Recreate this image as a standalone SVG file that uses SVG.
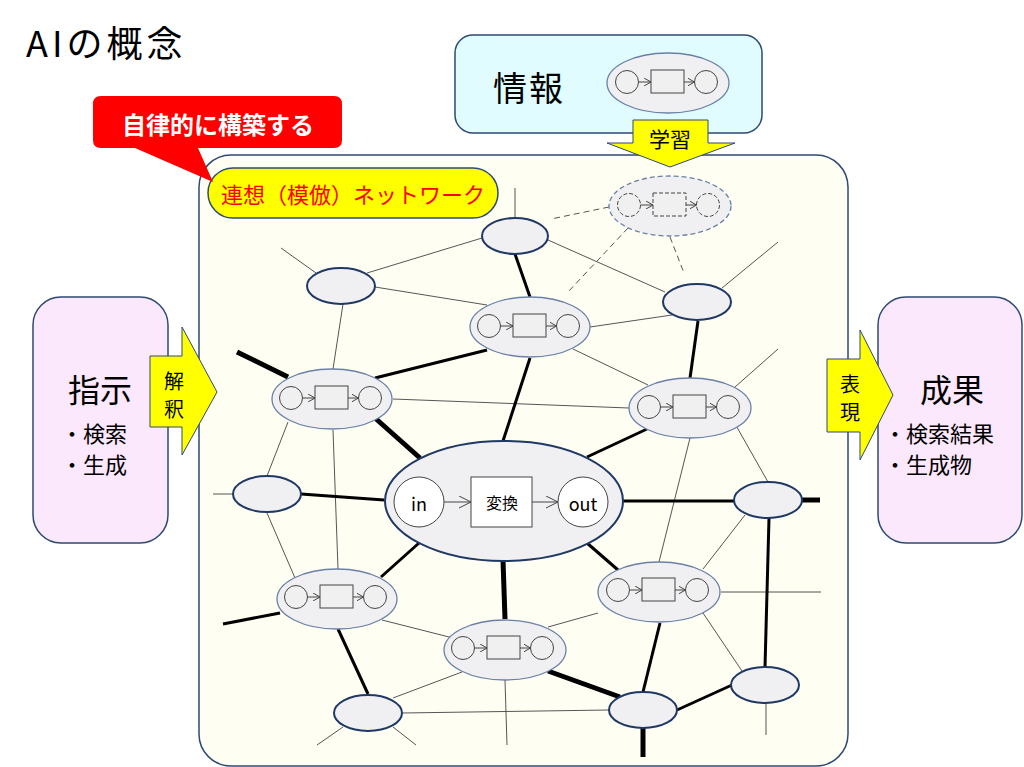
<svg xmlns="http://www.w3.org/2000/svg" xmlns:xlink="http://www.w3.org/1999/xlink" width="1024" height="767" viewBox="0 0 1024 767">
<defs>
<style>
.jp{font-family:"Noto Sans CJK JP","Noto Sans",sans-serif;}
.box{stroke:#2E4A72;stroke-width:1.5;}
.thin{stroke:#555;stroke-width:1;fill:none;}
.thick{stroke:#000;stroke-width:3;fill:none;}
.heavy{stroke:#000;stroke-width:5;fill:none;}
.dash{stroke:#555;stroke-width:1;fill:none;stroke-dasharray:6 4;}
.pn{fill:#F0F0F3;stroke:#1F3864;stroke-width:2;}
.cn{fill:#F0F0F2;stroke:#6A80A6;stroke-width:1.3;}
.cnd{fill:#F0F0F2;stroke:#6A80A6;stroke-width:1.3;stroke-dasharray:5 3;}
.mc{fill:#F0F0F0;stroke:#444;stroke-width:1;}
.mcd{fill:#F0F0F0;stroke:#444;stroke-width:1;stroke-dasharray:4 2;}
.ma{stroke:#444;stroke-width:1;fill:none;marker-end:url(#oa);}
.arr{fill:#FFFF00;stroke:#2E4A72;stroke-width:1;}
</style>
<marker id="oa" markerWidth="8" markerHeight="8" refX="7" refY="4" orient="auto" markerUnits="userSpaceOnUse">
<path d="M0,0 L7,4 L0,8" fill="none" stroke="#444" stroke-width="1"/>
</marker>
<marker id="ob" markerWidth="14" markerHeight="14" refX="12" refY="6" orient="auto" markerUnits="userSpaceOnUse">
<path d="M0,0 L12,6 L0,12" fill="none" stroke="#444" stroke-width="1"/>
</marker>
<g id="mini">
<circle class="mc" cx="-41" cy="0" r="11.5"/>
<rect class="mc" x="-17" y="-12" width="33" height="23"/>
<circle class="mc" cx="38" cy="0" r="11.5"/>
<line class="ma" x1="-29.5" y1="0" x2="-17" y2="0"/>
<line class="ma" x1="16" y1="0" x2="26.5" y2="0"/>
</g>
<g id="minid">
<circle class="mcd" cx="-41" cy="0" r="11.5"/>
<rect class="mcd" x="-17" y="-12" width="33" height="23"/>
<circle class="mcd" cx="38" cy="0" r="11.5"/>
<line class="ma" x1="-29.5" y1="0" x2="-17" y2="0"/>
<line class="ma" x1="16" y1="0" x2="26.5" y2="0"/>
</g>
</defs>
<rect width="1024" height="767" fill="#FFFFFF"/>

<text class="jp" x="26" y="41" font-size="36" dominant-baseline="central" letter-spacing="4" fill="#000">AIの概念</text>

<g id="info">
<rect class="box" x="455" y="35" width="307" height="98" rx="18" fill="#E0FCFF"/>
<text class="jp" x="529" y="86" font-size="34" text-anchor="middle" dominant-baseline="central" letter-spacing="2" fill="#000">情報</text>
<ellipse class="cn" cx="668" cy="83" rx="61" ry="30"/>
<use xlink:href="#mini" transform="translate(668,82)"/>
</g>

<g id="network-container">
<rect class="box" x="199" y="155" width="649" height="611" rx="32" fill="#FFFEF3"/>
</g>

<g id="connectors">
<line class="thin" x1="515" y1="188" x2="515" y2="218"/>
<line class="thin" x1="482" y1="238" x2="367" y2="273"/>
<line class="thin" x1="548" y1="240" x2="665" y2="292"/>
<line class="thin" x1="281" y1="248" x2="316" y2="273"/>
<line class="thin" x1="375" y1="287" x2="487" y2="305"/>
<line class="thin" x1="343" y1="304" x2="333" y2="369"/>
<line class="thin" x1="393" y1="399" x2="629" y2="408"/>
<line class="thin" x1="573" y1="349" x2="648" y2="385"/>
<line class="thin" x1="590" y1="327" x2="672" y2="315"/>
<line class="thin" x1="722" y1="288" x2="778" y2="242"/>
<line class="thin" x1="735" y1="387" x2="778" y2="349"/>
<line class="thin" x1="690" y1="438" x2="659" y2="562"/>
<line class="thin" x1="734" y1="422" x2="768" y2="482"/>
<line class="thin" x1="288" y1="422" x2="267" y2="476"/>
<line class="thin" x1="333" y1="430" x2="338" y2="569"/>
<line class="thin" x1="745" y1="515" x2="703" y2="569"/>
<line class="thin" x1="721" y1="592" x2="821" y2="592"/>
<line class="thin" x1="598" y1="613" x2="548" y2="627"/>
<line class="thin" x1="703" y1="613" x2="742" y2="671"/>
<line class="thin" x1="766" y1="703" x2="766" y2="735"/>
<line class="thin" x1="402" y1="713" x2="609" y2="710"/>
<line class="thin" x1="505" y1="680" x2="507" y2="745"/>
<line class="thin" x1="462" y1="672" x2="393" y2="698"/>
<line class="thin" x1="382" y1="620" x2="457" y2="639"/>
<line class="thin" x1="267" y1="513" x2="295" y2="578"/>
<line class="thin" x1="213" y1="494" x2="233" y2="494"/>
<line class="thin" x1="343" y1="727" x2="317" y2="745"/>
<line class="thin" x1="393" y1="727" x2="416" y2="745"/>

<line class="thick" x1="515" y1="254" x2="530" y2="297"/>
<line class="thick" x1="375" y1="378" x2="487" y2="350"/>
<line class="thick" x1="530" y1="358" x2="503" y2="441"/>
<line class="thick" x1="698" y1="321" x2="690" y2="378"/>
<line class="thick" x1="647" y1="429" x2="587" y2="457"/>
<line class="thick" x1="623" y1="501" x2="735" y2="501"/>
<line class="thick" x1="769" y1="518" x2="765" y2="667"/>
<line class="thick" x1="587" y1="543" x2="618" y2="570"/>
<line class="thick" x1="660" y1="623" x2="643" y2="692"/>
<line class="thick" x1="732" y1="685" x2="677" y2="710"/>
<line class="thick" x1="338" y1="629" x2="368" y2="694"/>
<line class="thick" x1="223" y1="624" x2="280" y2="613"/>
<line class="thick" x1="381" y1="577" x2="419" y2="543"/>
<line class="thick" x1="301" y1="494" x2="384" y2="500"/>

<line class="heavy" x1="237" y1="352" x2="288" y2="377" stroke-width="4.5"/>
<line class="heavy" x1="375" y1="418" x2="420" y2="458"/>
<line class="heavy" x1="802" y1="500" x2="820" y2="500" stroke-width="6"/>
<line class="heavy" x1="503" y1="560" x2="505" y2="619"/>
<line class="heavy" x1="548" y1="671" x2="620" y2="697"/>
<line class="heavy" x1="643" y1="728" x2="643" y2="757" stroke-width="4"/>

<line class="dash" x1="609" y1="207" x2="551" y2="219"/>
<line class="dash" x1="628" y1="228" x2="568" y2="292"/>
<line class="dash" x1="670" y1="237" x2="684" y2="273"/>
</g>

<g id="n1"><ellipse class="pn" cx="515" cy="236" rx="33" ry="18"/></g>
<g id="n2"><ellipse class="pn" cx="341" cy="286" rx="34" ry="18"/></g>
<g id="n3"><ellipse class="pn" cx="697" cy="302" rx="34" ry="18"/></g>
<g id="n4"><ellipse class="pn" cx="267" cy="494" rx="34" ry="18"/></g>
<g id="n5"><ellipse class="pn" cx="768" cy="500" rx="34" ry="18"/></g>
<g id="n6"><ellipse class="pn" cx="368" cy="713" rx="34" ry="18"/></g>
<g id="n7"><ellipse class="pn" cx="643" cy="710" rx="34" ry="18"/></g>
<g id="n8"><ellipse class="pn" cx="765" cy="685" rx="34" ry="18"/></g>

<g id="c1"><ellipse class="cn" cx="530" cy="327" rx="60" ry="30"/><use xlink:href="#mini" transform="translate(530,326)"/></g>
<g id="c2"><ellipse class="cn" cx="332" cy="399" rx="60" ry="30"/><use xlink:href="#mini" transform="translate(332,398)"/></g>
<g id="c3"><ellipse class="cn" cx="690" cy="408" rx="61" ry="30"/><use xlink:href="#mini" transform="translate(690,407)"/></g>
<g id="c4"><ellipse class="cn" cx="337" cy="599" rx="60" ry="30"/><use xlink:href="#mini" transform="translate(337,597)"/></g>
<g id="c5"><ellipse class="cn" cx="505" cy="650" rx="61" ry="30"/><use xlink:href="#mini" transform="translate(504,648)"/></g>
<g id="c6"><ellipse class="cn" cx="659" cy="592" rx="61" ry="30"/><use xlink:href="#mini" transform="translate(659,590)"/></g>
<g id="c7"><ellipse class="cnd" cx="670" cy="206" rx="61" ry="30"/><use xlink:href="#minid" transform="translate(670,205)"/></g>

<g id="center">
<ellipse class="pn" cx="504" cy="501" rx="119" ry="60" stroke-width="2"/>
<circle cx="419" cy="502" r="25" fill="#FFFFFF" stroke="#444" stroke-width="1"/>
<rect x="471" y="477" width="61" height="50" fill="#FFFFFF" stroke="#444" stroke-width="1"/>
<circle cx="583" cy="502" r="25" fill="#FFFFFF" stroke="#444" stroke-width="1"/>
<line x1="444" y1="502" x2="471" y2="502" stroke="#444" stroke-width="1" marker-end="url(#ob)"/>
<line x1="532" y1="502" x2="558" y2="502" stroke="#444" stroke-width="1" marker-end="url(#ob)"/>
<text class="jp" x="419" y="503" font-size="18" text-anchor="middle" dominant-baseline="central" fill="#000">in</text>
<text class="jp" x="502" y="502" font-size="16" text-anchor="middle" dominant-baseline="central" fill="#000">変換</text>
<text class="jp" x="583" y="503" font-size="18" text-anchor="middle" dominant-baseline="central" fill="#000">out</text>
</g>

<g id="instruction">
<rect class="box" x="33" y="297" width="135" height="246" rx="28" fill="#FCE8FC"/>
<text class="jp" x="100" y="388" font-size="32" text-anchor="middle" dominant-baseline="central" fill="#000">指示</text>
<text class="jp" x="61" y="432" font-size="22" dominant-baseline="central" fill="#000">・検索</text>
<text class="jp" x="61" y="463" font-size="22" dominant-baseline="central" fill="#000">・生成</text>
</g>

<g id="result">
<rect class="box" x="878" y="297" width="144" height="246" rx="28" fill="#FCE8FC"/>
<text class="jp" x="952" y="388" font-size="32" text-anchor="middle" dominant-baseline="central" fill="#000">成果</text>
<text class="jp" x="884" y="432" font-size="22" dominant-baseline="central" fill="#000">・検索結果</text>
<text class="jp" x="884" y="463" font-size="22" dominant-baseline="central" fill="#000">・生成物</text>
</g>

<g id="arrow-interpret">
<polygon class="arr" points="150,356 182,356 182,327 217,392 182,455 182,427 150,427"/>
<text class="jp" x="174" y="380" font-size="20" text-anchor="middle" dominant-baseline="central" fill="#000">解</text>
<text class="jp" x="174" y="408" font-size="20" text-anchor="middle" dominant-baseline="central" fill="#000">釈</text>
</g>

<g id="arrow-express">
<polygon class="arr" points="827,359 860,359 860,330 893,395 860,460 860,432 827,432"/>
<text class="jp" x="850" y="383" font-size="20" text-anchor="middle" dominant-baseline="central" fill="#000">表</text>
<text class="jp" x="850" y="411" font-size="20" text-anchor="middle" dominant-baseline="central" fill="#000">現</text>
</g>

<g id="arrow-learn">
<polygon class="arr" points="633,120 708,120 708,143 735,143 670,167 607,143 633,143"/>
<text class="jp" x="670" y="138" font-size="21" text-anchor="middle" dominant-baseline="central" fill="#000">学習</text>
</g>

<g id="network-label">
<rect x="208" y="168" width="290" height="50" rx="25" fill="#FFFF00" stroke="#2E4A72" stroke-width="1.5"/>
<text class="jp" x="353" y="193" font-size="22" text-anchor="middle" dominant-baseline="central" fill="#FF0000">連想（模倣）ネットワーク</text>
</g>

<g id="callout">
<path d="M101,96 H334 Q342,96 342,104 V140 Q342,148 334,148 H198 L213,182 L135,148 H101 Q93,148 93,140 V104 Q93,96 101,96 Z" fill="#FF0000"/>
<text class="jp" x="218" y="123" font-size="24" font-weight="bold" text-anchor="middle" dominant-baseline="central" fill="#FFFFFF">自律的に構築する</text>
</g>
</svg>
